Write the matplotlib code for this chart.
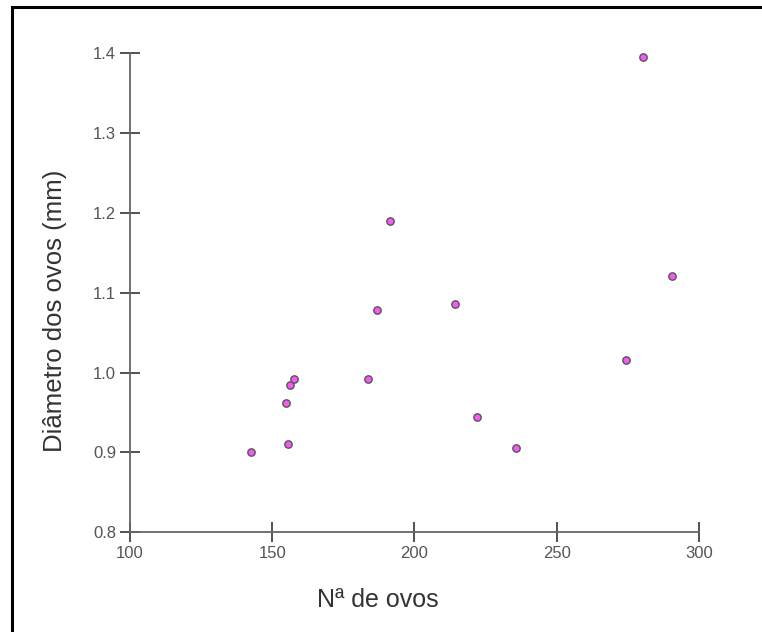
import matplotlib
matplotlib.use("Agg")
import matplotlib.pyplot as plt
from matplotlib.lines import Line2D

plt.rcParams['font.family'] = ['Liberation Sans', 'DejaVu Sans']

n_ovos = [142.7, 155.4, 154.7, 156.3, 157.6, 183.6, 191.4, 186.9, 214.3, 221.8, 235.6, 280.3, 290.5, 274.5]
diametro = [0.900, 0.910, 0.962, 0.985, 0.992, 0.992, 1.190, 1.079, 1.086, 0.944, 0.906, 1.395, 1.121, 1.016]
x_ticks = [100, 150, 200, 250, 300]
y_ticks = [0.8, 0.9, 1.0, 1.1, 1.2, 1.3, 1.4]
y_labels = ["0.8", "0.9", "1.0", "1.1", "1.2", "1.3", "1.4"]

W, H = 762, 632
fig = plt.figure(figsize=(W / 100, H / 100), dpi=100)
ax = fig.add_axes([130 / W, 1 - 532.3 / H, (699 - 130) / W, (532.3 - 53.3) / H])

ax.scatter(n_ovos, diametro, s=28, c='#f858f8', edgecolors='#555555', linewidths=1.0, zorder=3)

ax.set_xlim(100, 300)
ax.set_ylim(0.8, 1.4)
ax.set_xticks(x_ticks)
ax.set_xticklabels([str(t) for t in x_ticks])
ax.set_yticks(y_ticks)
ax.set_yticklabels(y_labels)

for s in ['top', 'right']:
    ax.spines[s].set_visible(False)
for s in ['left', 'bottom']:
    ax.spines[s].set_color('#666666')
    ax.spines[s].set_linewidth(1.3)
ax.tick_params(direction='inout', length=14, width=1.3, color='#444444',
               labelsize=12, labelcolor='#555555', pad=3)

fig.text(378 / W, 1 - 600 / H, "Nª de ovos", ha='center', va='center', fontsize=18, color='#333333')
fig.text(55 / W, 1 - 311 / H, "Diâmetro dos ovos (mm)", ha='center', va='center',
         rotation=90, fontsize=18.5, color='#333333')

# frame border (left and top edges)
fig.add_artist(Line2D([12 / W, 12 / W], [0, 1 - 7 / H], color='black', linewidth=2.2, transform=fig.transFigure))
fig.add_artist(Line2D([12 / W, 1], [1 - 7 / H, 1 - 7 / H], color='black', linewidth=2.2, transform=fig.transFigure))

fig.savefig("out.png", dpi=100)
